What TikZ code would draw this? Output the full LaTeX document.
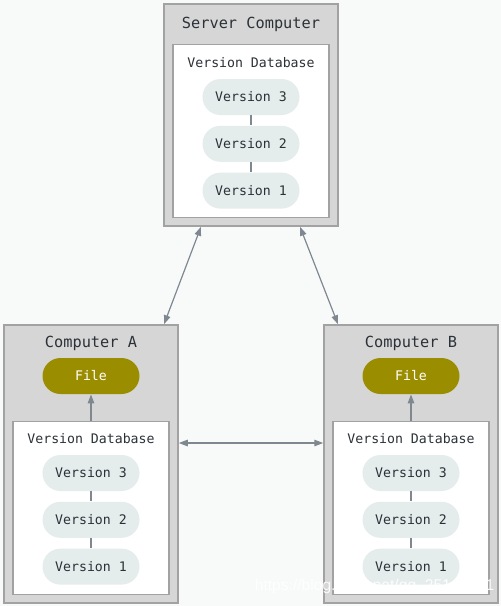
\documentclass[tikz,border=0pt]{standalone}
\usepackage{fontspec}
\newfontfamily\codefont{DejaVu Sans Mono}
\newfontfamily\markfont{Liberation Sans}
\usetikzlibrary{positioning, arrows.meta, calc}
\definecolor{pagebg}{HTML}{F8F9F9}
\definecolor{boxgray}{HTML}{D6D6D6}
\definecolor{boxline}{HTML}{A2A2A2}
\definecolor{pillbg}{HTML}{E5ECEC}
\definecolor{filebg}{HTML}{9B8D00}
\definecolor{linkgray}{HTML}{7F8891}
\definecolor{txt}{HTML}{2B3237}

\begin{document}
\begin{tikzpicture}[x=1pt, y=-1pt, thick, font=\codefont, text=txt]
                \tikzstyle{outer} = [draw=boxline, line width=1.5pt, fill=boxgray, minimum width=174pt]
                \tikzstyle{inner} = [draw=boxline, line width=1.5pt, fill=white, minimum width=156pt, minimum height=173pt]
                \tikzstyle{title} = [font=\codefont\fontsize{15.3}{18}\selectfont]
                \tikzstyle{label} = [font=\codefont\fontsize{13.2}{16}\selectfont]
                \tikzstyle{version} = [fill=pillbg, rounded corners=18pt, minimum width=97pt, minimum height=36pt, inner sep=0pt, font=\codefont\fontsize{13.2}{16}\selectfont]
                \tikzstyle{file} = [version, fill=filebg, text=white]
                \tikzstyle{link} = [linkgray, line width=1.2pt, {Triangle[length=9pt,width=6.5pt]}-{Triangle[length=9pt,width=6.5pt]}]
                \tikzstyle{chain} = [linkgray, line width=1.2pt]

                \fill[pagebg] (0,0) rectangle (501,606);
                \useasboundingbox (0,0) rectangle (501,606);

                % Server computer (top)
                \node[outer, minimum height=222pt] (server) at (251,115) {};
                \node[title] (servert) at (251,24) {Server Computer};
                \node[inner] (serverdb) at (251,131) {};
                \node[label] (serverl) at (251,63) {Version Database};
                \node[version] (s3) at (251,97) {Version 3};
                \node[version] (s2) [below=10pt of s3] {Version 2};
                \node[version] (s1) [below=10pt of s2] {Version 1};

                % Computer A (left)
                \node[outer, minimum height=278pt] (compA) at (91,464) {};
                \node[title] (compAt) at (91,343) {Computer A};
                \node[file] (fileA) at (91,376) {File};
                \node[inner] (dbA) at (91,508) {};
                \node[label] (dbAl) at (91,439) {Version Database};
                \node[version] (a3) at (91,473) {Version 3};
                \node[version] (a2) [below=10pt of a3] {Version 2};
                \node[version] (a1) [below=10pt of a2] {Version 1};

                % Computer B (right)
                \node[outer, minimum height=278pt] (compB) at (411,464) {};
                \node[title] (compBt) at (411,343) {Computer B};
                \node[file] (fileB) at (411,376) {File};
                \node[inner] (dbB) at (411,508) {};
                \node[label] (dbBl) at (411,439) {Version Database};
                \node[version] (b3) at (411,473) {Version 3};
                \node[version] (b2) [below=10pt of b3] {Version 2};
                \node[version] (b1) [below=10pt of b2] {Version 1};

                % version chains
                \draw[chain] (s3) -- (s2);
                \draw[chain] (s2) -- (s1);
                \draw[chain] (a3) -- (a2);
                \draw[chain] (a2) -- (a1);
                \draw[chain] (b3) -- (b2);
                \draw[chain] (b2) -- (b1);

                % checkout
                \draw[chain, -{Triangle[length=9pt,width=6.5pt]}] (dbA) -- (fileA);
                \draw[chain, -{Triangle[length=9pt,width=6.5pt]}] (dbB) -- (fileB);

                % sync
                \draw[link] ([xshift=-50pt]server.south) -- ([xshift=73pt]compA.north);
                \draw[link] ([xshift=49pt]server.south) -- ([xshift=-73pt]compB.north);
                \draw[link] ([yshift=21pt]compA.east) -- ([yshift=21pt]compB.west);

                % watermark
                \node[font=\markfont\fontsize{15.6}{18}\selectfont, text=white, text opacity=0.9, anchor=east] (mark) at (498,586) {https://blog.csdn.net/qq\_25147521};
            \end{tikzpicture}
\end{document}
